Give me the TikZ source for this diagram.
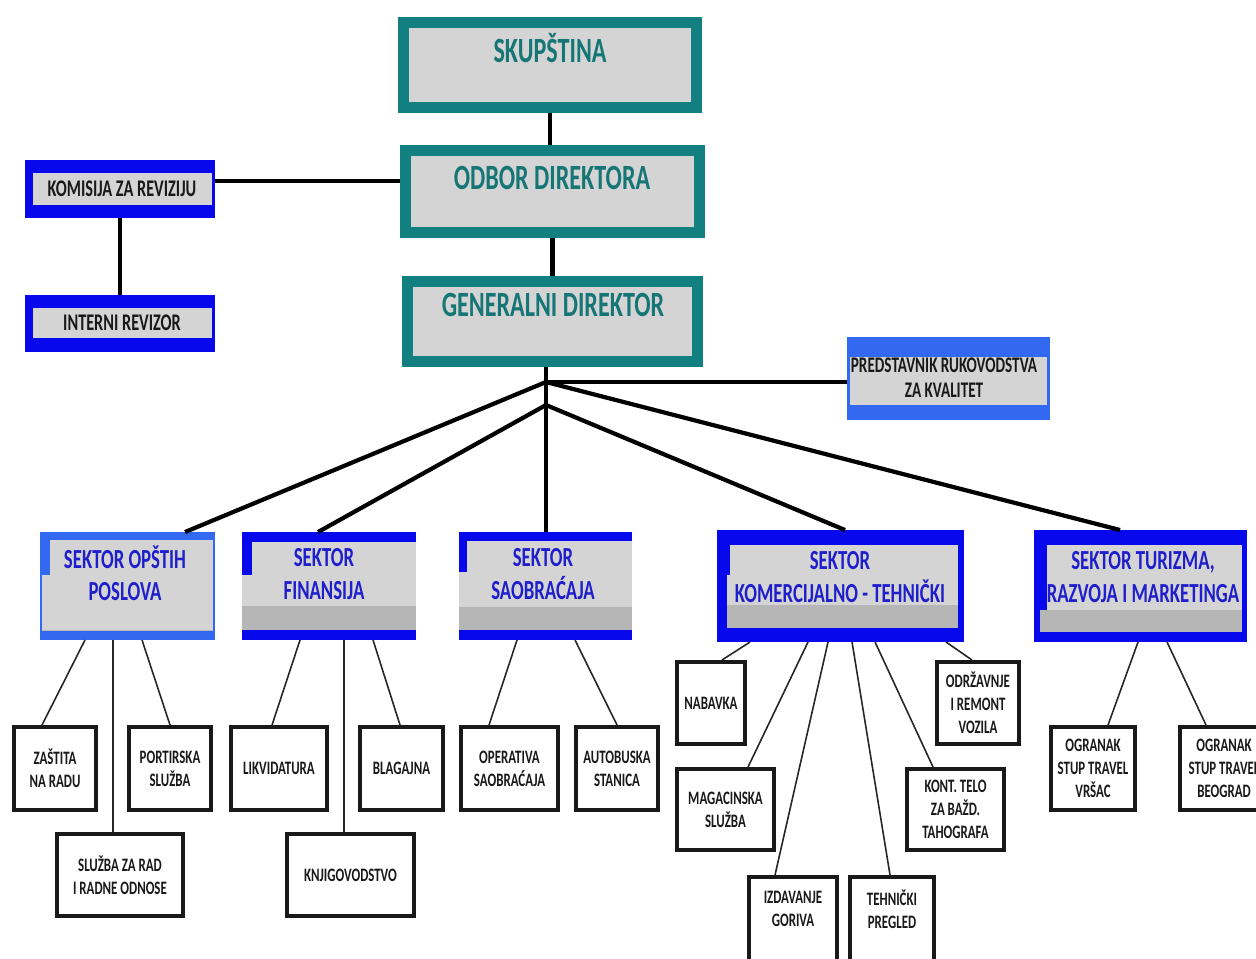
\documentclass[tikz,border=0pt]{standalone}
\usepackage{fontspec}
\setmainfont{Carlito}
\newfontfamily\uski{Carlito}[FakeStretch=0.68]
\usetikzlibrary{calc,positioning}
\definecolor{tirkiz}{RGB}{18,128,128}
\definecolor{tirkiztekst}{RGB}{22,118,118}
\definecolor{plava}{RGB}{8,8,236}
\definecolor{plavasv}{RGB}{50,105,240}
\definecolor{plavatekst}{RGB}{30,30,205}
\definecolor{siva}{RGB}{212,212,212}
\definecolor{sivatamna}{RGB}{182,182,182}
\definecolor{crna}{RGB}{25,25,25}

\tikzset{
  vrh/.style={draw=tirkiz, line width=0.22cm, fill=siva, inner sep=0pt},
  plavi/.style={fill=plava, inner sep=0pt, outer sep=0pt},
  sektor/.style={fill=plava, inner sep=0pt, outer sep=0pt},
  mali/.style={draw=crna, line width=0.08cm, fill=white, inner sep=0pt, align=center, text=crna,
    font=\uski\bfseries\fontsize{10.8}{13}\selectfont},
  vrhtekst/.style={text=tirkiztekst, inner sep=0pt, font=\uski\bfseries\fontsize{20.2}{24}\selectfont},
  sektortekst/.style={text=plavatekst, inner sep=0pt, align=center,
    font=\uski\bfseries\fontsize{15.7}{18.5}\selectfont},
  plavitekst/.style={text=crna, inner sep=0pt, align=center, font=\uski\bfseries\fontsize{13.6}{14.2}\selectfont},
  debela/.style={draw=black, line width=2.4pt},
  tanka/.style={draw=black!85, line width=0.9pt}
}

\begin{document}
\begin{tikzpicture}[x=0.02cm, y=-0.02cm]
    \useasboundingbox (0,0) rectangle (1256,958);
    \clip (0,0) rectangle (1256,958);
    \fill[white] (0,0) rectangle (1256,958);

    % uprava
    \node[vrh, minimum width=5.86cm, minimum height=1.70cm] (skup) at (550,65) {};
    \node[vrh, minimum width=5.88cm, minimum height=1.64cm] (odbor) at (552.5,191.5) {};
    \node[vrh, minimum width=5.80cm, minimum height=1.60cm] (gd) at (552.5,321.5) {};
    \node[vrhtekst] (skup-t) at (550,48) {SKUPŠTINA};
    \node[vrhtekst] (odbor-t) at (552,178) {ODBOR DIREKTORA};
    \node[vrhtekst] (gd-t) at (553,305) {GENERALNI DIREKTOR};

    % revizija i kvalitet
    \node[plavi, minimum width=3.80cm, minimum height=1.16cm] (rev) at (120,189) {};
    \node[plavi, minimum width=3.80cm, minimum height=1.14cm] (int) at (120,323.5) {};
    \node[plavi, fill=plavasv, minimum width=4.06cm, minimum height=1.66cm] (pred) at (948.5,378.5) {};
    \foreach \ime/\lev/\gor/\des/\dol in {rev/8/13/3/13, int/8/13/3/14, pred/3/20/3/15}
        \fill[siva] ($(\ime.north west)+(\lev,\gor)$) rectangle ($(\ime.south east)+(-\des,-\dol)$);
    \node[plavitekst] (rev-t) at (122,189) {KOMISIJA ZA REVIZIJU};
    \node[plavitekst] (int-t) at (122,323) {INTERNI REVIZOR};
    \node[plavitekst, font=\uski\bfseries\fontsize{12.7}{14.2}\selectfont] (pred-t) at (944,378) {PREDSTAVNIK RUKOVODSTVA\\ZA KVALITET};

    % sektori
    \node[sektor, fill=plavasv, minimum width=3.50cm, minimum height=2.16cm] (sop) at (127.5,586) {};
    \node[sektor, minimum width=3.48cm, minimum height=2.16cm] (sfi) at (329,586) {};
    \node[sektor, minimum width=3.46cm, minimum height=2.16cm] (ssa) at (545.5,586) {};
    \node[sektor, minimum width=4.94cm, minimum height=2.24cm] (skt) at (840.5,586) {};
    \node[sektor, minimum width=4.26cm, minimum height=2.24cm] (stu) at (1140.5,586) {};
    \foreach \ime/\boja/\lev/\gor/\des/\dol/\zub/\zubd/\tam in
        {sop/plavasv/2/8/2/10/10/43/98, sfi/plava/0/10/0/10/10/43/74, ssa/plava/0/9/0/10/8/40/75,
         skt/plava/10/15/6/14/13/45/75, stu/plava/6/15/5/10/13/80/80}
    {
        \fill[siva] ($(\ime.north west)+(\lev,\gor)$) rectangle ($(\ime.south east)+(-\des,-\dol)$);
        \fill[sivatamna] ($(\ime.north west)+(\lev,\tam)$) rectangle ($(\ime.south east)+(-\des,-\dol)$);
        \fill[\boja] (\ime.north west) rectangle ($(\ime.north west)+(\zub,\zubd)$);
    }
    \node[sektortekst] (sop-t) at (125,573) {SEKTOR OPŠTIH\\POSLOVA};
    \node[sektortekst] (sfi-t) at (324,574) {SEKTOR\\FINANSIJA};
    \node[sektortekst] (ssa-t) at (543,574) {SEKTOR\\SAOBRAĆAJA};
    \node[sektortekst] (skt-t) at (840,577) {SEKTOR\\KOMERCIJALNO - TEHNIČKI};
    \node[sektortekst] (stu-t) at (1143,577) {SEKTOR TURIZMA,\\RAZVOJA I MARKETINGA};

    % sluzbe
    \node[mali, minimum width=1.64cm, minimum height=1.66cm] (zas) at (55,768.5) {ZAŠTITA\\NA RADU};
    \node[mali, minimum width=1.64cm, minimum height=1.66cm] (por) at (170,768.5) {PORTIRSKA\\SLUŽBA};
    \node[mali, minimum width=2.52cm, minimum height=1.64cm] (slu) at (120,875) {SLUŽBA ZA RAD\\I RADNE ODNOSE};
    \node[mali, minimum width=1.92cm, minimum height=1.66cm] (lik) at (279,768.5) {LIKVIDATURA};
    \node[mali, minimum width=1.66cm, minimum height=1.66cm] (bla) at (401.5,768.5) {BLAGAJNA};
    \node[mali, minimum width=2.54cm, minimum height=1.64cm] (knj) at (350.5,875) {KNJIGOVODSTVO};
    \node[mali, minimum width=1.94cm, minimum height=1.66cm] (ope) at (509.5,768.5) {OPERATIVA\\SAOBRAĆAJA};
    \node[mali, minimum width=1.64cm, minimum height=1.66cm] (aut) at (617,768.5) {AUTOBUSKA\\STANICA};
    \node[mali, minimum width=1.36cm, minimum height=1.64cm] (nab) at (711,703) {NABAVKA};
    \node[mali, minimum width=1.94cm, minimum height=1.62cm] (mag) at (725.5,809.5) {MAGACINSKA\\SLUŽBA};
    \node[mali, minimum width=1.76cm, minimum height=2.12cm] (izd) at (793,930) {};
    \node[mali, minimum width=1.68cm, minimum height=2.12cm] (teh) at (892,930) {};
    \node[mali, draw=none, fill=none] (izd-t) at (793,909) {IZDAVANJE\\GORIVA};
    \node[mali, draw=none, fill=none] (teh-t) at (892,909) {TEHNIČKI\\PREGLED};
    \node[mali, minimum width=1.64cm, minimum height=1.64cm] (odr) at (978,703) {ODRŽAVNJE\\I REMONT\\VOZILA};
    \node[mali, minimum width=1.94cm, minimum height=1.62cm] (kon) at (955.5,809.5) {KONT. TELO\\ZA BAŽD.\\TAHOGRAFA};
    \node[mali, minimum width=1.68cm, minimum height=1.66cm] (vrs) at (1093,768.5) {OGRANAK\\STUP TRAVEL\\VRŠAC};
    \node[mali, minimum width=1.76cm, minimum height=1.66cm] (beo) at (1224,768.5) {OGRANAK\\STUP TRAVEL\\BEOGRAD};

    % veze
    \coordinate (c1) at (546,382);
    \coordinate (c2) at (546,405);
    \draw[debela] (skup.south) -- (skup.south |- odbor.north);
    \draw[debela] (odbor.south) -- (gd.north);
    \draw[debela] ([yshift=0.16cm]rev.east) -- ([yshift=0.16cm]rev.east -| odbor.west);
    \draw[debela] (rev.south) -- (int.north);
    \draw[debela] (c2 |- gd.south) -- (c2);
    \draw[debela] (c1) -- (c1 -| pred.west);
    \draw[debela] (c1) -- ($(sop.north west)+(145,0)$);
    \draw[debela] (c1) -- ($(stu.north west)+(86,0)$);
    \draw[debela] (c2) -- ($(sfi.north west)+(76,0)$);
    \draw[debela] (c2) -- (c2 |- ssa.north);
    \draw[debela] (c2) -- ($(skt.north west)+(128,0)$);
    \foreach \gore/\pa/\dole/\pb in {sop/45/zas/30, sop/73/slu/58, sop/102/por/43,
        sfi/58/lik/43, sfi/102/knj/59, sfi/131/bla/42, ssa/58/ope/30, ssa/116/aut/43,
        skt/33/nab/47, skt/91/mag/73, skt/111/izd/28, skt/135/teh/42, skt/158/kon/28, skt/229/odr/37,
        stu/104/vrs/59, stu/133/beo/28}
        \draw[tanka] ($(\gore.south west)+(\pa,0)$) -- ($(\dole.north west)+(\pb,0)$);
\end{tikzpicture}
\end{document}
